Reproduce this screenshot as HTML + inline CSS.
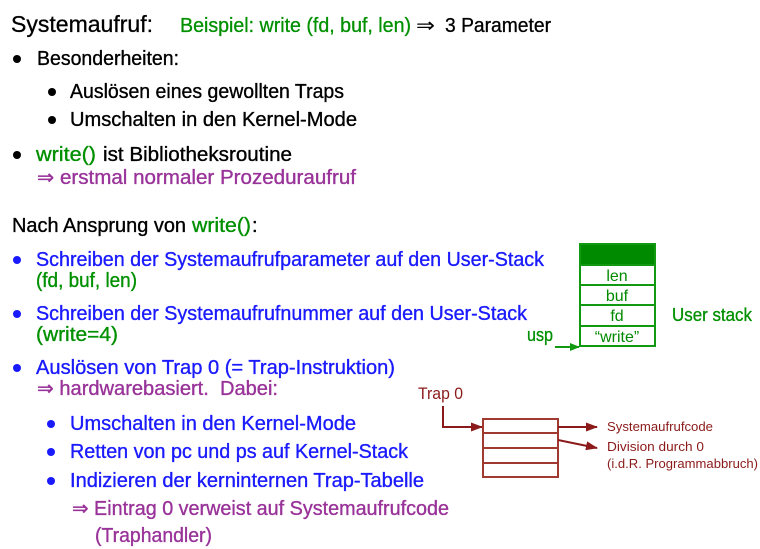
<!DOCTYPE html>
<html>
<head>
<meta charset="utf-8">
<style>
  html, body { margin:0; padding:0; background:#fff; }
  svg { display:block; }
  text { font-family: "Liberation Sans", "DejaVu Sans", sans-serif; }
  .b text, text.b { stroke-width:0.35; }
</style>
</head>
<body>
<svg width="760" height="549" viewBox="0 0 760 549" xmlns="http://www.w3.org/2000/svg">
  <defs>
    <marker id="ar" markerWidth="12" markerHeight="10" refX="11" refY="5" orient="auto" markerUnits="userSpaceOnUse">
      <path d="M0,0.5 L12,5 L0,9.5 Z" fill="#8b1a1a"/>
    </marker>
    <marker id="ag" markerWidth="10" markerHeight="8" refX="9" refY="4" orient="auto" markerUnits="userSpaceOnUse">
      <path d="M0,0 L10,4 L0,8 Z" fill="#119911"/>
    </marker>
  </defs>

  <!-- Title -->
  <text x="11" y="32" font-size="23" fill="#000" stroke="#000" stroke-width="0.3" textLength="142" lengthAdjust="spacingAndGlyphs">Systemaufruf:</text>
  <text x="180" y="32" font-size="20" fill="#009000" stroke="#009000" stroke-width="0.3" textLength="231" lengthAdjust="spacingAndGlyphs">Beispiel: write (fd, buf, len)</text>
  <text x="416" y="32" font-size="20" fill="#000" textLength="19" lengthAdjust="spacingAndGlyphs">⇒</text>
  <text x="445" y="32" font-size="20" fill="#000" stroke="#000" stroke-width="0.3" textLength="106" lengthAdjust="spacingAndGlyphs">3 Parameter</text>

  <g stroke-width="0.35">
  <!-- Besonderheiten -->
  <circle cx="17" cy="59" r="4" fill="#000"/>
  <text x="37" y="65" font-size="20" fill="#000" stroke="#000" textLength="142" lengthAdjust="spacingAndGlyphs">Besonderheiten:</text>
  <circle cx="52" cy="92" r="4" fill="#000"/>
  <text x="70" y="98" font-size="20" fill="#000" stroke="#000" textLength="274" lengthAdjust="spacingAndGlyphs">Auslösen eines gewollten Traps</text>
  <circle cx="52" cy="120" r="4" fill="#000"/>
  <text x="70" y="126" font-size="20" fill="#000" stroke="#000" textLength="287" lengthAdjust="spacingAndGlyphs">Umschalten in den Kernel-Mode</text>

  <!-- write() -->
  <circle cx="17" cy="155" r="4" fill="#000"/>
  <text x="36" y="161" font-size="20" fill="#009000" stroke="#009000" textLength="60" lengthAdjust="spacingAndGlyphs">write()</text>
  <text x="103" y="161" font-size="20" fill="#000" stroke="#000" textLength="189" lengthAdjust="spacingAndGlyphs">ist Bibliotheksroutine</text>
  <text x="37" y="184" font-size="20" fill="#993399" stroke="#993399" textLength="319" lengthAdjust="spacingAndGlyphs">⇒ erstmal normaler Prozeduraufruf</text>

  <!-- Nach Ansprung -->
  <text x="12" y="232" font-size="20" fill="#000" stroke="#000" textLength="174" lengthAdjust="spacingAndGlyphs">Nach Ansprung von</text>
  <text x="192" y="232" font-size="20" fill="#009000" stroke="#009000" textLength="59" lengthAdjust="spacingAndGlyphs">write()</text>
  <text x="252" y="232" font-size="20" fill="#000" stroke="#000">:</text>

  <circle cx="17" cy="260" r="4" fill="#1a1aff"/>
  <text x="36" y="266" font-size="20" fill="#1a1aff" stroke="#1a1aff" textLength="508" lengthAdjust="spacingAndGlyphs">Schreiben der Systemaufrufparameter auf den User-Stack</text>
  <text x="36" y="287" font-size="20" fill="#009000" stroke="#009000" textLength="101" lengthAdjust="spacingAndGlyphs">(fd, buf, len)</text>

  <circle cx="17" cy="314" r="4" fill="#1a1aff"/>
  <text x="36" y="320" font-size="20" fill="#1a1aff" stroke="#1a1aff" textLength="491" lengthAdjust="spacingAndGlyphs">Schreiben der Systemaufrufnummer auf den User-Stack</text>
  <text x="36" y="341" font-size="20" fill="#009000" stroke="#009000" textLength="82" lengthAdjust="spacingAndGlyphs">(write=4)</text>

  <circle cx="17" cy="368" r="4" fill="#1a1aff"/>
  <text x="36" y="374" font-size="20" fill="#1a1aff" stroke="#1a1aff" textLength="359" lengthAdjust="spacingAndGlyphs">Auslösen von Trap 0 (= Trap-Instruktion)</text>
  <text x="37" y="395" font-size="20" fill="#993399" stroke="#993399" textLength="241" lengthAdjust="spacingAndGlyphs">⇒ hardwarebasiert.&#160; Dabei:</text>

  <circle cx="51" cy="424" r="4" fill="#1a1aff"/>
  <text x="70" y="430" font-size="20" fill="#1a1aff" stroke="#1a1aff" textLength="286" lengthAdjust="spacingAndGlyphs">Umschalten in den Kernel-Mode</text>
  <circle cx="51" cy="452" r="4" fill="#1a1aff"/>
  <text x="70" y="458" font-size="20" fill="#1a1aff" stroke="#1a1aff" textLength="338" lengthAdjust="spacingAndGlyphs">Retten von pc und ps auf Kernel-Stack</text>
  <circle cx="51" cy="481" r="4" fill="#1a1aff"/>
  <text x="70" y="487" font-size="20" fill="#1a1aff" stroke="#1a1aff" textLength="354" lengthAdjust="spacingAndGlyphs">Indizieren der kerninternen Trap-Tabelle</text>
  <text x="72" y="515" font-size="20" fill="#993399" stroke="#993399" textLength="377" lengthAdjust="spacingAndGlyphs">⇒ Eintrag 0 verweist auf Systemaufrufcode</text>
  <text x="95" y="542" font-size="20" fill="#993399" stroke="#993399" textLength="117" lengthAdjust="spacingAndGlyphs">(Traphandler)</text>
  </g>

  <!-- User stack -->
  <rect x="579" y="243" width="76" height="22" fill="#008a00"/>
  <rect x="580" y="244" width="75" height="102" fill="none" stroke="#119911" stroke-width="2"/>
  <line x1="580" y1="265" x2="655" y2="265" stroke="#119911" stroke-width="2"/>
  <line x1="580" y1="285" x2="655" y2="285" stroke="#119911" stroke-width="2"/>
  <line x1="580" y1="305" x2="655" y2="305" stroke="#119911" stroke-width="2"/>
  <line x1="580" y1="326" x2="655" y2="326" stroke="#119911" stroke-width="2"/>
  <text x="617" y="281" font-size="16" fill="#008a00" text-anchor="middle">len</text>
  <text x="617" y="301" font-size="16" fill="#008a00" text-anchor="middle">buf</text>
  <text x="617" y="321" font-size="16" fill="#008a00" text-anchor="middle">fd</text>
  <text x="617" y="342" font-size="16" fill="#008a00" text-anchor="middle">“write”</text>
  <text x="672" y="321" font-size="18" fill="#009000" stroke="#009000" stroke-width="0.3" textLength="80" lengthAdjust="spacingAndGlyphs">User stack</text>
  <text x="527" y="341" font-size="18" fill="#009000" stroke="#009000" stroke-width="0.3" textLength="26" lengthAdjust="spacingAndGlyphs">usp</text>
  <line x1="555" y1="347" x2="579" y2="347" stroke="#119911" stroke-width="2" marker-end="url(#ag)"/>

  <!-- Trap table -->
  <text x="418" y="399" font-size="17" fill="#8b1a1a" textLength="45" lengthAdjust="spacingAndGlyphs">Trap 0</text>
  <polyline points="443,406 443,427 482,427" fill="none" stroke="#8b1a1a" stroke-width="2" marker-end="url(#ar)"/>
  <rect x="483" y="419" width="75" height="58" fill="none" stroke="#a03a30" stroke-width="2"/>
  <line x1="483" y1="433" x2="558" y2="433" stroke="#a03a30" stroke-width="2"/>
  <line x1="483" y1="448" x2="558" y2="448" stroke="#a03a30" stroke-width="2"/>
  <line x1="483" y1="463" x2="558" y2="463" stroke="#a03a30" stroke-width="2"/>
  <line x1="558" y1="427" x2="597" y2="427" stroke="#8b1a1a" stroke-width="2" marker-end="url(#ar)"/>
  <line x1="558" y1="440" x2="597" y2="448" stroke="#8b1a1a" stroke-width="2" marker-end="url(#ar)"/>
  <text x="607" y="431" font-size="13" fill="#8b1a1a" textLength="106" lengthAdjust="spacingAndGlyphs">Systemaufrufcode</text>
  <text x="607" y="451" font-size="13" fill="#8b1a1a" textLength="97" lengthAdjust="spacingAndGlyphs">Division durch 0</text>
  <text x="607" y="468" font-size="13" fill="#8b1a1a" textLength="151" lengthAdjust="spacingAndGlyphs">(i.d.R. Programmabbruch)</text>
</svg>
</body>
</html>
